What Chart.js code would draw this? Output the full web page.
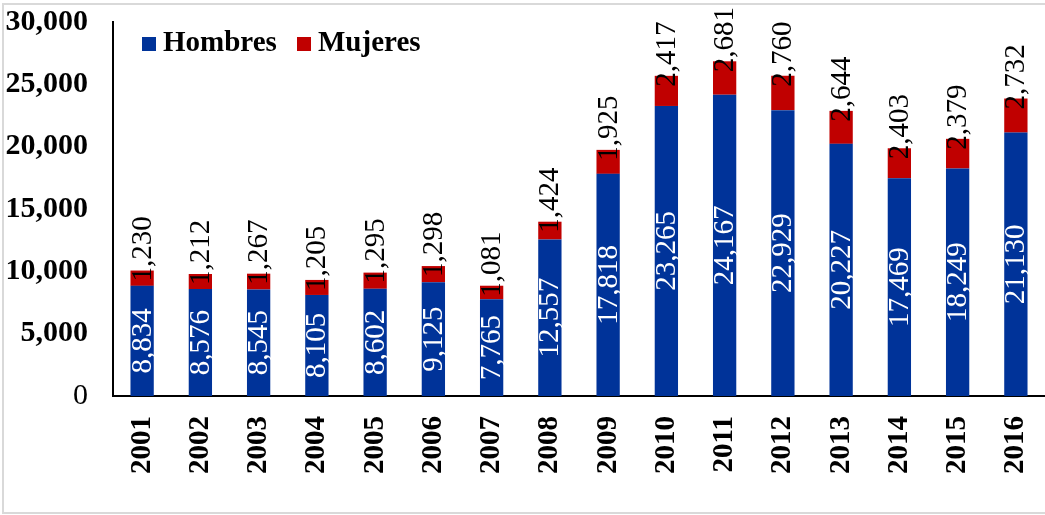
<!DOCTYPE html>
<html>
<head>
<meta charset="utf-8">
<script src="https://cdn.jsdelivr.net/npm/chart.js@4/dist/chart.umd.min.js"></script>
<style>
    body { margin: 0; background: #fff; }
    #wrap { position: relative; width: 1045px; height: 515px; overflow: hidden; }
    #frame { position: absolute; left: 2px; top: 3px; width: 1060px; height: 507px; border: 2px solid #d9d9d9; }
    canvas { position: absolute; left: 0; top: 0; }
</style>
</head>
<body>
<div id="wrap">
    <div id="frame"></div>
    <canvas id="mainChart" width="1045" height="515"></canvas>
</div>
<script>
const years = ['2001', '2002', '2003', '2004', '2005', '2006', '2007', '2008',
               '2009', '2010', '2011', '2012', '2013', '2014', '2015', '2016'];
const hombres = [8834, 8576, 8545, 8105, 8602, 9125, 7765, 12557,
                 17818, 23265, 24167, 22929, 20227, 17469, 18249, 21130];
const mujeres = [1230, 1212, 1267, 1205, 1295, 1298, 1081, 1424,
                 1925, 2417, 2681, 2760, 2644, 2403, 2379, 2732];
const yTicks = [0, 5000, 10000, 15000, 20000, 25000, 30000];

const BLUE = '#003399';
const RED = '#c00000';
const FONT = '"Liberation Serif", "Times New Roman", serif';

const fmt = v => v.toLocaleString('en-US');

// value labels, rotated like in the original
const valueLabels = {
    id: 'valueLabels',
    afterDatasetsDraw(chart) {
        const ctx = chart.ctx;
        ctx.save();
        ctx.font = 'normal 29px ' + FONT;
        chart.data.datasets.forEach((ds, i) => {
            const meta = chart.getDatasetMeta(i);
            meta.data.forEach((bar, j) => {
                const text = fmt(ds.data[j]);
                ctx.save();
                if (i === 0) {
                    ctx.translate(bar.x, (bar.y + bar.base) / 2);
                    ctx.rotate(-Math.PI / 2);
                    ctx.fillStyle = '#fff';
                    ctx.textAlign = 'center';
                } else {
                    ctx.translate(bar.x, bar.y + 11);
                    ctx.rotate(-Math.PI / 2);
                    ctx.fillStyle = '#000';
                    ctx.textAlign = 'left';
                }
                ctx.textBaseline = 'middle';
                ctx.fillText(text, 0, 1);
                ctx.restore();
            });
        });
        ctx.restore();
    }
};

// legend drawn inside the plot area, top left
const innerLegend = {
    id: 'innerLegend',
    afterDraw(chart) {
        const ctx = chart.ctx;
        const items = [
            { label: chart.data.datasets[0].label, color: BLUE, x: 142 },
            { label: chart.data.datasets[1].label, color: RED, x: 297 }
        ];
        ctx.save();
        ctx.font = 'bold 29px ' + FONT;
        ctx.textBaseline = 'middle';
        items.forEach(it => {
            ctx.fillStyle = it.color;
            ctx.fillRect(it.x, 37, 14, 14);
            ctx.fillStyle = '#000';
            ctx.fillText(it.label, it.x + 21, 44);
        });
        ctx.restore();
    }
};

const chart = new Chart(document.getElementById('mainChart').getContext('2d'), {
    type: 'bar',
    data: {
        labels: years,
        datasets: [
            { label: 'Hombres', data: hombres, backgroundColor: BLUE },
            { label: 'Mujeres', data: mujeres, backgroundColor: RED }
        ]
    },
    options: {
        responsive: false,
        animation: false,
        layout: {
            autoPadding: false,
            padding: { top: 22, right: 0, bottom: 0, left: 0 }
        },
        datasets: {
            bar: { categoryPercentage: 1.0, barPercentage: 0.4 }
        },
        plugins: {
            legend: { display: false },
            tooltip: { enabled: false }
        },
        scales: {
            x: {
                stacked: true,
                grid: { display: false, drawTicks: false },
                border: { display: true, color: '#000', width: 2 },
                ticks: {
                    color: '#000',
                    minRotation: 90,
                    maxRotation: 90,
                    padding: 20,
                    font: { family: FONT, size: 29, weight: 'bold' }
                },
                afterFit(scale) {
                    scale.height = 515 - 396;
                    scale.paddingLeft = 0;
                    scale.paddingRight = 0;
                }
            },
            y: {
                stacked: true,
                min: 0,
                max: 30000,
                grid: { display: false, drawTicks: false },
                border: { display: true, color: '#000', width: 2 },
                afterBuildTicks(scale) { scale.ticks = yTicks.map(v => ({ value: v })); },
                ticks: {
                    color: '#000',
                    padding: 25,
                    callback: v => fmt(v),
                    font: ctx => ({ family: FONT, size: 30, weight: ctx.tick && ctx.tick.value === 0 ? 'normal' : 'bold' })
                },
                afterFit(scale) {
                    scale.width = 113;
                    scale.paddingTop = 0;
                    scale.paddingBottom = 0;
                }
            }
        }
    },
    plugins: [valueLabels, innerLegend]
});
</script>
</body>
</html>
